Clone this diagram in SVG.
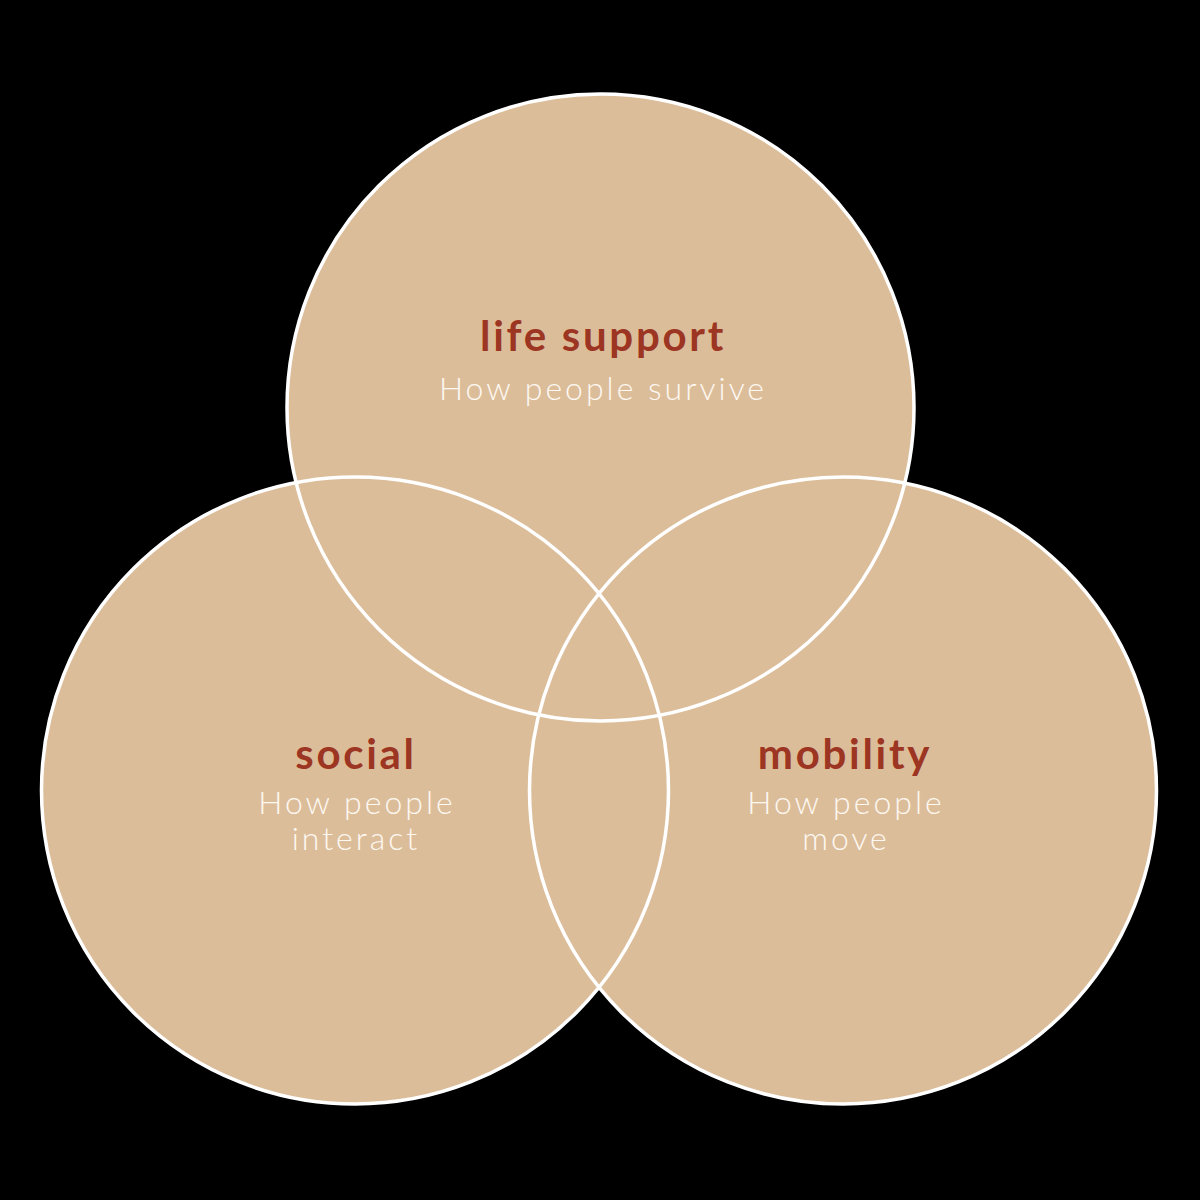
<svg xmlns="http://www.w3.org/2000/svg" width="1200" height="1200" viewBox="0 0 1200 1200">
  <style>
    .ring-fill { fill: #dcbd9a; }
    .ring-line { fill: none; stroke: #ffffff; stroke-width: 3.5; }
    .title { font-family: "Lato", "Noto Sans", sans-serif; font-weight: 700; font-size: 42px; fill: #9c3522; text-anchor: middle; letter-spacing: 2.7px; }
    .sub { font-family: "Lato", "Noto Sans", sans-serif; font-weight: 300; font-size: 32px; fill: #fdf8f1; text-anchor: middle; letter-spacing: 3px; }
  </style>
  <rect width="1200" height="1200" fill="#000000"/>

  <!-- filled discs first, outlines on top so every crossing shows -->
  <g id="fills">
    <circle class="ring-fill" cx="600.5" cy="407.5" r="313.5"/>
    <circle class="ring-fill" cx="355" cy="790.5" r="313.5"/>
    <circle class="ring-fill" cx="843" cy="790.5" r="313.5"/>
  </g>

  <g id="life-support">
    <circle class="ring-line" cx="600.5" cy="407.5" r="313.5"/>
    <text class="title" x="603" y="351">life support</text>
    <text class="sub" x="603" y="400">How people survive</text>
  </g>

  <g id="social">
    <circle class="ring-line" cx="355" cy="790.5" r="313.5"/>
    <text class="title" x="356" y="769">social</text>
    <text class="sub" x="357" y="814">How people</text>
    <text class="sub" x="356" y="850">interact</text>
  </g>

  <g id="mobility">
    <circle class="ring-line" cx="843" cy="790.5" r="313.5"/>
    <text class="title" x="845" y="769">mobility</text>
    <text class="sub" x="846" y="814">How people</text>
    <text class="sub" x="846" y="850">move</text>
  </g>

  <g id="connectors"/>
</svg>
